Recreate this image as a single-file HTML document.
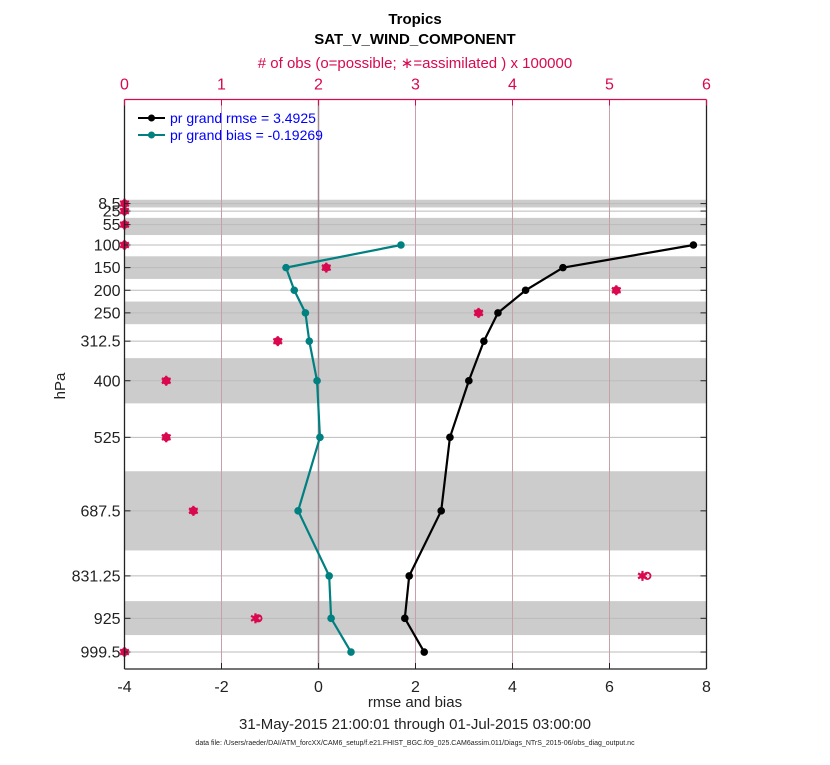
<!DOCTYPE html>
<html><head><meta charset="utf-8"><style>
body{margin:0;background:#fff;font-family:"Liberation Sans",sans-serif}
svg text{font-family:"Liberation Sans",sans-serif}
</style></head><body>
<svg id="chart" width="830" height="760" xmlns="http://www.w3.org/2000/svg">
<g id="bands"></g>
<g id="grid"></g>
<g id="series"></g>
<g id="axes"></g>
<text x="415" y="24" text-anchor="middle" font-size="15" font-weight="bold">Tropics</text>
<text x="415" y="44" text-anchor="middle" font-size="15" font-weight="bold">SAT_V_WIND_COMPONENT</text>
<text x="415" y="68" text-anchor="middle" font-size="15" fill="#d9084f"># of obs (o=possible; ∗=assimilated ) x 100000</text>
<text x="415" y="707" text-anchor="middle" font-size="15" fill="#222">rmse and bias</text>
<text x="415" y="729" text-anchor="middle" font-size="15" fill="#222">31-May-2015 21:00:01 through 01-Jul-2015 03:00:00</text>
<text x="415" y="745" text-anchor="middle" font-size="7" fill="#222">data file: /Users/raeder/DAI/ATM_forcXX/CAM6_setup/f.e21.FHIST_BGC.f09_025.CAM6assim.011/Diags_NTrS_2015-06/obs_diag_output.nc</text>
<text transform="translate(65,386) rotate(-90)" text-anchor="middle" font-size="15" fill="#222">hPa</text>
<g>
<line x1="138" y1="118" x2="165" y2="118" stroke="#000" stroke-width="2"/><circle cx="151.5" cy="118" r="3.5" fill="#000"/>
<text x="170" y="123" font-size="14" fill="#0000ff">pr grand rmse = 3.4925</text>
<line x1="138" y1="135" x2="165" y2="135" stroke="#008080" stroke-width="2"/><circle cx="151.5" cy="135" r="3.5" fill="#008080"/>
<text x="170" y="140" font-size="14" fill="#0000ff">pr grand bias = -0.19269</text>
</g>
</svg>
<script>
const levels=[8.5,25,55,100,150,200,250,312.5,400,525,687.5,831.25,925,999.5];
const levelLabels=["8.5","25","55","100","150","200","250","312.5","400","525","687.5","831.25","925","999.5"];
const rmse=[null,null,null,7.73,5.04,4.27,3.70,3.41,3.10,2.71,2.53,1.87,1.78,2.18];
const bias=[null,null,null,1.70,-0.67,-0.50,-0.27,-0.19,-0.03,0.03,-0.42,0.22,0.26,0.67];
const obsPossible=[0,0,0,0,2.08,5.07,3.65,1.58,0.43,0.43,0.71,5.39,1.38,0];
const obsAssim=[0,0,0,0,2.08,5.07,3.65,1.58,0.43,0.43,0.71,5.34,1.35,0];
const bandEdges=[[0,17],[40,78],[125,175],[225,275],[350,450],[600,775],[887,962]];
const xTicks=[-4,-2,0,2,4,6,8];
const topTicks=[0,1,2,3,4,5,6];
const L=124.5,R=706.5,T=99.5,B=669;
const xs=v=>L+(v+4)/12*(R-L);
const xo=v=>L+v/6*(R-L);
const ys=p=>245+(p-100)*0.4525;
const NS="http://www.w3.org/2000/svg";
function mk(parent,tag,attrs){const e=document.createElementNS(NS,tag);for(const k in attrs)e.setAttribute(k,attrs[k]);document.getElementById(parent).appendChild(e);return e;}
bandEdges.forEach(b=>{const r=mk('bands','rect',{x:L,y:ys(b[0]),width:R-L,height:ys(b[1])-ys(b[0]),fill:'#cccccc'});

});
levels.forEach(p=>{const l=mk('grid','line',{x1:L,x2:R,y1:ys(p),y2:ys(p),stroke:'#bbb','stroke-width':1});

});
topTicks.slice(1,6).forEach(t=>{const l=mk('grid','line',{x1:xo(t),x2:xo(t),y1:T,y2:B,stroke:'#c8a0ac','stroke-width':1});

});
mk('grid','line',{x1:xs(0),x2:xs(0),y1:T,y2:B,stroke:'#a08890','stroke-width':1.5});
function line(vals,color,name){let pts=[];vals.forEach((v,i)=>{if(v!==null)pts.push([xs(v),ys(levels[i])]);});
const pl=mk('series','polyline',{points:pts.map(p=>p.join(',')).join(' '),fill:'none',stroke:color,'stroke-width':2.2});


pts.forEach(p=>{const c=mk('series','circle',{cx:p[0],cy:p[1],r:3.8,fill:color});

});}
line(bias,'#008080','bias');
line(rmse,'#000000','rmse');
obsPossible.forEach((v,i)=>{const c=mk('series','circle',{cx:xo(v),cy:ys(levels[i]),r:3.2,fill:'none',stroke:'#d9084f','stroke-width':1.8});

});
obsAssim.forEach((v,i)=>{const x=xo(v),y=ys(levels[i]);const g=mk('series','g',{stroke:'#d9084f','stroke-width':2.2});


[[0,5],[4.4,2.5],[4.4,-2.5]].forEach(d=>{const l=document.createElementNS(NS,'line');l.setAttribute('x1',x-d[0]);l.setAttribute('x2',x+d[0]);l.setAttribute('y1',y-d[1]);l.setAttribute('y2',y+d[1]);g.appendChild(l);});
mk('series','circle',{cx:x,cy:y,r:3,fill:'#d9084f'});});
mk('axes','line',{x1:L,x2:L,y1:T,y2:B,stroke:'#222','stroke-width':1.3});
mk('axes','line',{x1:R,x2:R,y1:T,y2:B,stroke:'#222','stroke-width':1.3});
mk('axes','line',{x1:L,x2:R,y1:B,y2:B,stroke:'#222','stroke-width':1.3});
mk('axes','line',{x1:L,x2:R,y1:T,y2:T,stroke:'#d9084f','stroke-width':1.3});
xTicks.forEach(t=>{mk('axes','line',{x1:xs(t),x2:xs(t),y1:B,y2:B-6,stroke:'#222'});
const tx=mk('axes','text',{x:xs(t),y:B+23,'text-anchor':'middle','font-size':16,fill:'#222'});tx.textContent=t;

});
topTicks.forEach(t=>{mk('axes','line',{x1:xo(t),x2:xo(t),y1:T,y2:T+6,stroke:'#d9084f'});
const tx=mk('axes','text',{x:xo(t),y:T-10,'text-anchor':'middle','font-size':16,fill:'#d9084f'});tx.textContent=t;

});
levels.forEach((p,i)=>{mk('axes','line',{x1:L,x2:L+6,y1:ys(p),y2:ys(p),stroke:'#222'});mk('axes','line',{x1:R,x2:R-6,y1:ys(p),y2:ys(p),stroke:'#222'});
const tx=mk('axes','text',{x:L-4,y:ys(p)+5.5,'text-anchor':'end','font-size':16,fill:'#222'});tx.textContent=levelLabels[i];

});
</script>
</body></html>
